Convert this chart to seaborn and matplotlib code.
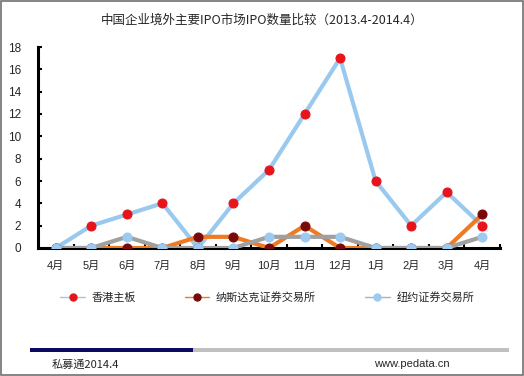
import matplotlib
matplotlib.use("Agg")
import matplotlib.pyplot as plt
import seaborn as sns
from matplotlib.lines import Line2D
from matplotlib.patches import Rectangle

months = ["4月", "5月", "6月", "7月", "8月", "9月", "10月", "11月", "12月", "1月", "2月", "3月", "4月"]
hk_main = [0, 2, 3, 4, 0, 4, 7, 12, 17, 6, 2, 5, 2]
nasdaq = [0, 0, 0, 0, 1, 1, 0, 2, 0, 0, 0, 0, 3]
nyse = [0, 0, 1, 0, 0, 0, 1, 1, 1, 0, 0, 0, 1]
series_names = ["香港主板", "纳斯达克证券交易所", "纽约证券交易所"]
y_ticks = [0, 2, 4, 6, 8, 10, 12, 14, 16, 18]

sns.set_style("white")
plt.rcParams['font.family'] = ['Liberation Sans', 'Noto Sans CJK SC', 'DejaVu Sans']

fig = plt.figure(figsize=(5.24, 3.76), dpi=100)
ax = fig.add_axes([38/524, 1-248/376, 462/524, 201/376])

xs = list(range(len(months)))
styles = [
    (hk_main, "#99c9ee", "#e8141b"),
    (nasdaq, "#f07a22", "#7a0a0a"),
    (nyse, "#a0a0a0", "#9ccaf0"),
]
for vals, lc, mc in styles:
    sns.lineplot(x=xs, y=vals, ax=ax, color=lc, linewidth=3, marker="o",
                 markersize=6.5, markerfacecolor=mc, markeredgecolor=mc, zorder=3)

ax.set_xlim(-0.5, len(months) - 0.5)
ax.set_ylim(0, 18)
ax.set_yticks(y_ticks)
ax.set_yticklabels([str(v) for v in y_ticks], fontsize=8.5)
ax.set_xticks(xs)
ax.set_xticklabels(months, fontsize=8)
ax.set_xticks([i + 0.5 for i in range(len(months))], minor=True)
ax.tick_params(axis='x', which='major', bottom=True, length=0, pad=9)
ax.tick_params(axis='x', which='minor', bottom=True, direction='in', length=3, width=1.5, color='black')
ax.tick_params(axis='y', which='major', left=True, direction='in', length=3, width=1.5, color='black', pad=12)
for s in ['top', 'right']:
    ax.spines[s].set_visible(False)
for s in ['left', 'bottom']:
    ax.spines[s].set_color('black')
    ax.spines[s].set_linewidth(2.2)
    ax.spines[s].set_zorder(2)
ax.grid(False)

fig.text(0.5, 1-20/376, "中国企业境外主要IPO市场IPO数量比较（2013.4-2014.4）",
         ha='center', va='center', fontsize=9, family=['Noto Sans CJK SC'])

handles = [
    Line2D([], [], color="#99c9ee", linewidth=1, marker='o', markersize=5,
           markerfacecolor="#e8141b", markeredgecolor="#e8141b"),
    Line2D([], [], color="#f07a22", linewidth=1, marker='o', markersize=5,
           markerfacecolor="#7a0a0a", markeredgecolor="#7a0a0a"),
    Line2D([], [], color="#9fb6c8", linewidth=1, marker='o', markersize=5,
           markerfacecolor="#9ccaf0", markeredgecolor="#9ccaf0"),
]
fig.legend(handles, series_names, loc='center', bbox_to_anchor=(0.51, 1-297/376),
           ncol=3, frameon=False, handlelength=2.2, columnspacing=4.4,
           handletextpad=0.6, prop={'family': ['Noto Sans CJK SC'], 'size': 8})

fig.add_artist(Rectangle((30/524, 1-352/376), 163/524, 4/376, transform=fig.transFigure,
                         color="#0a0a60", lw=0))
fig.add_artist(Rectangle((193/524, 1-352/376), 316/524, 4/376, transform=fig.transFigure,
                         color="#c0c0c0", lw=0))
fig.text(52/524, 1-365/376, "私募通2014.4", ha='left', va='center', fontsize=8,
         family=['Noto Sans CJK SC'])
fig.text(412/524, 1-364/376, "www.pedata.cn", ha='center', va='center', fontsize=8)

fig.add_artist(Rectangle((0.002, 0.003), 0.996, 0.994, transform=fig.transFigure,
                         fill=False, edgecolor="#707070", lw=1.2))

fig.savefig("out.png", dpi=100)
